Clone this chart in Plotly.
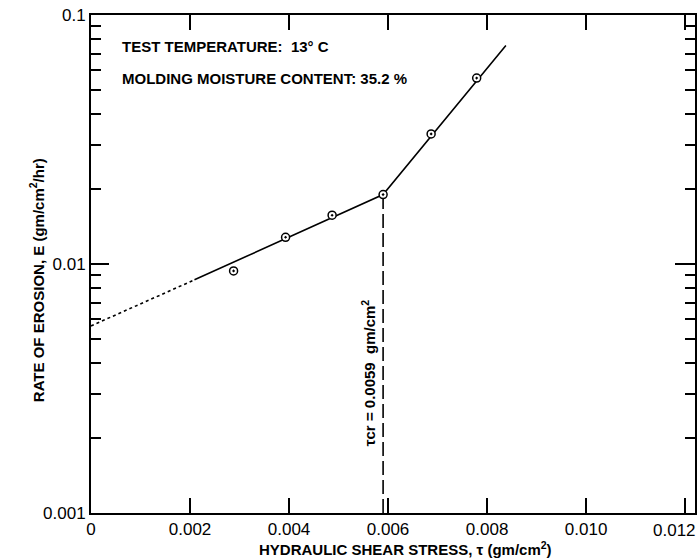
import plotly.graph_objects as go

# Measured erosion data (hydraulic shear stress, rate of erosion)
shear_stress = [0.00288, 0.00393, 0.00487, 0.0059, 0.00687, 0.00779]
erosion_rate = [0.00938, 0.0128, 0.0157, 0.0190, 0.0333, 0.0558]

# Fitted lines
fit_x = [0.00209, 0.0059, 0.00838]
fit_y = [0.00864, 0.0190, 0.0755]
extrap_x = [0.0, 0.00209]
extrap_y = [0.00564, 0.00864]

tau_cr = 0.0059
crit_y = [0.001, 0.0190]

x_ticks = [0, 0.002, 0.004, 0.006, 0.008, 0.010, 0.012]
x_ticktext = ["0", "0.002", "0.004", "0.006", "0.008", "0.010", "0.012"]
y_ticks = [0.001, 0.01, 0.1]
y_ticktext = ["0.001", "0.01", "0.1"]
y_minor = [k * 10.0 ** e for e in (-3, -2) for k in range(2, 10)]

FONT = "Liberation Sans"

fig = go.Figure()
fig.add_trace(go.Scatter(x=extrap_x, y=extrap_y, mode="lines",
                         line=dict(color="black", width=1.6, dash="dot"),
                         showlegend=False, hoverinfo="skip"))
fig.add_trace(go.Scatter(x=fit_x, y=fit_y, mode="lines",
                         line=dict(color="black", width=1.6),
                         showlegend=False, hoverinfo="skip"))
fig.add_trace(go.Scatter(x=[tau_cr, tau_cr], y=crit_y, mode="lines",
                         line=dict(color="black", width=1.6, dash="14px,5px"),
                         showlegend=False, hoverinfo="skip"))
fig.add_trace(go.Scatter(x=shear_stress, y=erosion_rate, mode="markers",
                         marker=dict(symbol="circle-dot", size=8, color="white",
                                     line=dict(color="black", width=1.5)),
                         showlegend=False))
# invisible trace to anchor the right-hand tick axis
fig.add_trace(go.Scatter(x=[tau_cr], y=[0.01], yaxis="y2", mode="markers",
                         marker=dict(opacity=0), showlegend=False, hoverinfo="skip"))

yaxis_common = dict(type="log", range=[-3, -1], tickvals=y_ticks,
                    ticks="inside", tickwidth=1.5, tickcolor="black",
                    showgrid=False, zeroline=False,
                    minor=dict(tickvals=y_minor, ticks="inside", ticklen=10,
                               tickwidth=1.5, tickcolor="black", showgrid=False))

# last x tick label is drawn separately so it stays inside the page
x_ticktext_axis = x_ticktext[:-1] + [""]

fig.update_layout(
    width=700, height=560,
    margin=dict(l=91, r=3, t=15, b=47),
    plot_bgcolor="white", paper_bgcolor="white",
    font=dict(family=FONT, color="black", size=15),
    xaxis=dict(range=[0, 0.0122], tickvals=x_ticks, ticktext=x_ticktext_axis,
               ticks="inside", ticklen=15, tickwidth=1.5, tickcolor="black",
               showline=True, linecolor="black", linewidth=2, mirror="ticks",
               showgrid=False, zeroline=False,
               tickfont=dict(size=17, family=FONT)),
    yaxis=dict(**yaxis_common, ticktext=y_ticktext, ticklen=18,
               showline=True, linecolor="black", linewidth=2, mirror=True,
               tickfont=dict(size=17, family=FONT)),
    yaxis2=dict(**yaxis_common, overlaying="y", side="right", ticklen=20,
                showticklabels=False, showline=False),
)

fig.add_annotation(text=x_ticktext[-1], xref="paper", yref="paper", x=1.005, y=-0.036,
                   xanchor="right", yanchor="middle", showarrow=False,
                   font=dict(size=17, family=FONT, color="black"))

annots = [
    dict(text="TEST TEMPERATURE:  13° C", x=0.048, y=0.936, xanchor="left"),
    dict(text="MOLDING MOISTURE CONTENT: 35.2 %", x=0.048, y=0.873, xanchor="left"),
]
for a in annots:
    fig.add_annotation(xref="paper", yref="paper", yanchor="middle", showarrow=False,
                       font=dict(size=15, family=FONT, color="black", weight="bold"), **a)

fig.add_annotation(text="τcr = 0.0059  gm/cm<sup>2</sup>", x=tau_cr, xref="x",
                   y=0.281, yref="paper", xshift=-15, textangle=-90,
                   xanchor="center", yanchor="middle", showarrow=False,
                   font=dict(size=15, family=FONT, color="black", weight="bold"))
fig.add_annotation(text="HYDRAULIC SHEAR STRESS, τ (gm/cm<sup>2</sup>)",
                   xref="paper", yref="paper", x=0.52, y=-0.072,
                   xanchor="center", yanchor="middle", showarrow=False,
                   font=dict(size=15, family=FONT, color="black", weight="bold"))
fig.add_annotation(text="RATE OF EROSION, E (gm/cm<sup>2</sup>/hr)",
                   xref="paper", yref="paper", x=-0.089, y=0.468,
                   xanchor="center", yanchor="middle", textangle=-90, showarrow=False,
                   font=dict(size=15, family=FONT, color="black", weight="bold"))

fig.write_html("out.html", config={"displayModeBar": False},
               post_script="document.body.style.margin='0';")
